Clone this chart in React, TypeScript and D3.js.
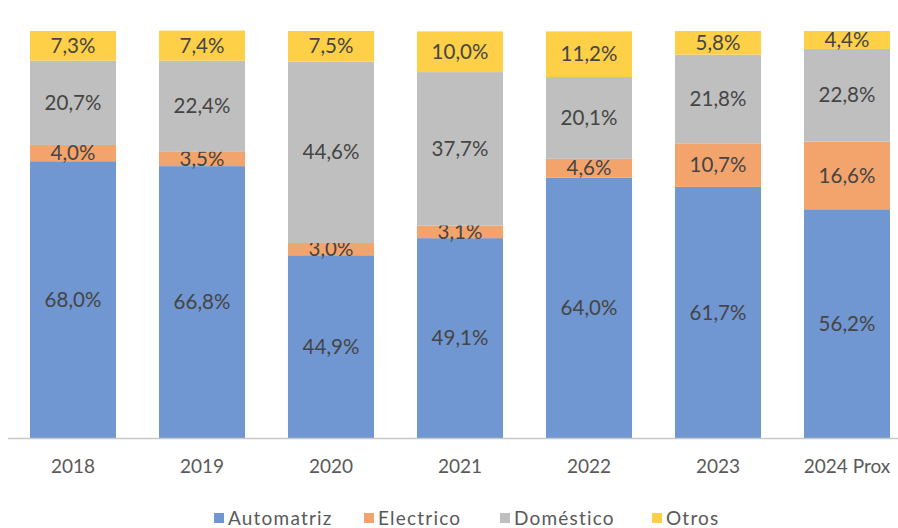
import React, { useEffect, useRef } from 'react';
import * as d3 from 'd3';

const years = ['2018', '2019', '2020', '2021', '2022', '2023', '2024 Prox'];
const seriesNames = ['Automatriz', 'Electrico', 'Doméstico', 'Otros'];
const automatriz = [68.0, 66.8, 44.9, 49.1, 64.0, 61.7, 56.2];
const electrico = [4.0, 3.5, 3.0, 3.1, 4.6, 10.7, 16.6];
const domestico = [20.7, 22.4, 44.6, 37.7, 20.1, 21.8, 22.8];
const otros = [7.3, 7.4, 7.5, 10.0, 11.2, 5.8, 4.4];
const colors = ['#7097d1', '#f2a46c', '#bfbfbf', '#fdd048'];

const W = 898;
const H = 528;
const FONT = 'Lato, "Open Sans", sans-serif';

function App() {
  const svgRef = useRef<SVGSVGElement>(null);

  useEffect(() => {
    const svg = d3.select(svgRef.current);
    svg.selectAll('*').remove();

    const values = [automatriz, electrico, domestico, otros];
    const rows = years.map((y, i) => {
      const r: any = { year: y };
      seriesNames.forEach((s, k) => (r[s] = values[k][i]));
      return r;
    });
    const stack = d3.stack().keys(seriesNames)(rows);

    const x = d3.scaleBand().domain(years).range([8.5, 911.5]).paddingInner(0.333).paddingOuter(0.1665);
    const y = d3.scaleLinear().domain([0, 100]).range([438, 31]);

    stack.forEach((layer, k) => {
      const g = svg.append('g');
      g.selectAll('rect')
        .data(layer)
        .join('rect')
        .attr('x', (d: any) => x(d.data.year)!)
        .attr('width', x.bandwidth())
        .attr('y', (d) => y(d[1]))
        .attr('height', (d) => y(d[0]) - y(d[1]))
        .attr('fill', colors[k]);
      g.selectAll('text')
        .data(layer)
        .join('text')
        .attr('x', (d: any) => x(d.data.year)! + x.bandwidth() / 2)
        .attr('y', (d) => (y(d[0]) + y(d[1])) / 2)
        .attr('dy', '0.35em')
        .attr('text-anchor', 'middle')
        .attr('font-family', FONT)
        .attr('font-size', 20.5)
        .attr('fill', '#454545')
        .text((d) => (d[1] - d[0]).toFixed(1).replace('.', ',') + '%');
    });

    svg.append('line')
      .attr('x1', 8).attr('x2', W)
      .attr('y1', 438.5).attr('y2', 438.5)
      .attr('stroke', '#c8c8c8').attr('stroke-width', 1.5);

    svg.append('g')
      .selectAll('text')
      .data(years)
      .join('text')
      .attr('x', (d) => x(d)! + x.bandwidth() / 2)
      .attr('y', 466)
      .attr('dy', '0.35em')
      .attr('text-anchor', 'middle')
      .attr('font-family', FONT)
      .attr('font-size', 19)
      .attr('fill', '#595959')
      .text((d) => d);

    const legendX = [214, 364, 500, 652];
    const legend = svg.append('g');
    seriesNames.forEach((s, k) => {
      legend.append('rect')
        .attr('x', legendX[k]).attr('y', 513)
        .attr('width', 10).attr('height', 10)
        .attr('fill', colors[k]);
      legend.append('text')
        .attr('x', legendX[k] + 14).attr('y', 518)
        .attr('dy', '0.35em')
        .attr('font-family', FONT)
        .attr('font-size', 19)
        .attr('letter-spacing', 1.2)
        .attr('fill', '#595959')
        .text(s);
    });
  }, []);

  return (
    <div style={{ position: 'absolute', left: 0, top: 0 }}>
      <svg ref={svgRef} width={W} height={H} style={{ display: 'block', background: '#fff' }} />
    </div>
  );
}

export default App;
